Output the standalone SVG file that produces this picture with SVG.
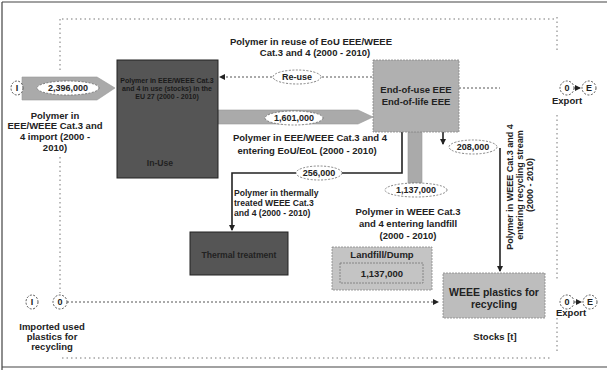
<svg xmlns="http://www.w3.org/2000/svg" width="607" height="375" viewBox="0 0 607 375">
<defs>
<marker id="ah" markerWidth="6" markerHeight="6" refX="5" refY="3" orient="auto" markerUnits="userSpaceOnUse"><path d="M0,0 L6,3 L0,6 z" fill="#222"/></marker>
<style>
text{font-family:"Liberation Sans",Arial,sans-serif;fill:#222}
.b{font-weight:bold;font-size:9.5px}
.s{font-weight:bold;font-size:8.6px}
.n{font-weight:bold;font-size:9px}
.dot{fill:none;stroke:#777;stroke-width:1;stroke-dasharray:1.5 3}
.ln{fill:none;stroke:#222;stroke-width:1.6}
.dl{fill:none;stroke:#555;stroke-width:1;stroke-dasharray:2 2}
.lab{fill:#fff;stroke:#666;stroke-width:0.8;stroke-dasharray:2 1.5}
.cir{fill:#fff;stroke:#555;stroke-width:1;stroke-dasharray:2 1.5}
.flow{fill:#aaa;stroke:#999;stroke-width:0.6}
.c{text-anchor:middle}
</style>
</defs>
<rect width="607" height="375" fill="#fff"/>
<g id="frame">
<path d="M2,2 H607 M2,2 V370 M2,367 H607" fill="none" stroke="#444" stroke-width="1.2"/>
<path class="dot" d="M62,19 H555 M60,19 V70 M60,157 V293 M62,358 H552 M557,17 V53 M557,115 V280 M557,318 V352"/>
</g>
<g id="connectors">
<path class="flow" d="M22,77 H97 L115,88 L97,100 H22 z"/>
<path class="flow" d="M218,110 H358 L373,117 L358,124 H218 z"/>
<rect class="flow" x="408" y="132" width="14" height="52"/>
<path class="dl" d="M372,77 H220" marker-end="url(#ah)"/>
<path class="dl" d="M459,88 H500"/>
<path class="ln" d="M402,132 V173 H342"/>
<path class="ln" d="M296,173 H232 V230" marker-end="url(#ah)"/>
<path class="ln" d="M443,132 V144" marker-end="url(#ah)"/>
<path class="ln" d="M500,148 V271" marker-end="url(#ah)"/>
<path class="dl" d="M67,302 H438" marker-end="url(#ah)"/>
<path class="dl" d="M574,88 H580" marker-end="url(#ah)"/>
<path class="dl" d="M574,302 H581" marker-end="url(#ah)"/>
<ellipse class="lab" cx="68" cy="88" rx="31" ry="7"/>
<text class="n c" x="68" y="91">2,396,000</text>
<ellipse class="lab" cx="297" cy="77" rx="24" ry="7"/>
<text class="n c" x="297" y="80">Re-use</text>
<ellipse class="lab" cx="294" cy="118" rx="29" ry="7"/>
<text class="n c" x="294" y="121">1,601,000</text>
<ellipse class="lab" cx="319" cy="173" rx="23" ry="7"/>
<text class="n c" x="319" y="176">256,000</text>
<ellipse class="lab" cx="416" cy="190" rx="31" ry="7"/>
<text class="n c" x="416" y="193">1,137,000</text>
<ellipse class="lab" cx="473" cy="147" rx="24" ry="7"/>
<text class="n c" x="473" y="150">208,000</text>
</g>
<g id="import-top">
<ellipse class="cir" cx="17" cy="88" rx="6" ry="7"/>
<text class="n c" x="17" y="91">I</text>
<text class="b c" x="55" y="119">Polymer in</text>
<text class="b c" x="55" y="129">EEE/WEEE Cat.3 and</text>
<text class="b c" x="55" y="140">4 import (2000 -</text>
<text class="b c" x="55" y="151">2010)</text>
</g>
<g id="in-use">
<rect x="117" y="60" width="101" height="118" fill="#555" stroke="#222" stroke-width="1"/>
<text class="c" x="167" y="83" style="font-size:7px;font-weight:bold;fill:#1a1a1a">Polymer in EEE/WEEE Cat.3</text>
<text class="c" x="167" y="91" style="font-size:7px;font-weight:bold;fill:#1a1a1a">and 4 in use (stocks) in the</text>
<text class="c" x="167" y="99" style="font-size:7px;font-weight:bold;fill:#1a1a1a">EU 27 (2000 - 2010)</text>
<text class="s c" x="160" y="166">In-Use</text>
</g>
<g id="reuse-label">
<text class="b c" x="311" y="45">Polymer in reuse of EoU EEE/WEEE</text>
<text class="b c" x="315" y="56">Cat.3 and 4 (2000 - 2010)</text>
</g>
<g id="end-of-use">
<rect x="373" y="60" width="86" height="72" fill="#b0b0b0" stroke="#888" stroke-width="0.8" stroke-dasharray="2 1"/>
<text class="b c" x="416" y="93">End-of-use EEE</text>
<text class="b c" x="416" y="105">End-of-life EEE</text>
</g>
<g id="eou-label">
<text class="b c" x="310" y="141">Polymer in EEE/WEEE Cat.3 and 4</text>
<text class="b c" x="307" y="154">entering EoU/EoL (2000 - 2010)</text>
</g>
<g id="thermal-label">
<text class="s" x="234" y="196">Polymer in thermally</text>
<text class="s" x="234" y="206">treated WEEE Cat.3</text>
<text class="s" x="234" y="216">and 4 (2000 - 2010)</text>
</g>
<g id="thermal">
<rect x="190" y="232" width="98" height="43" fill="#555" stroke="#222" stroke-width="1"/>
<text class="s c" x="239" y="258">Thermal treatment</text>
</g>
<g id="landfill-label">
<text class="b c" x="408" y="215">Polymer in WEEE Cat.3</text>
<text class="b c" x="408" y="227">and 4 entering landfill</text>
<text class="b c" x="408" y="239">(2000 - 2010)</text>
</g>
<g id="landfill">
<rect x="332" y="247" width="100" height="43" fill="#c4c4c4" stroke="#888" stroke-width="0.8" stroke-dasharray="2 1"/>
<text class="b c" x="382" y="258">Landfill/Dump</text>
<rect x="340" y="263" width="83" height="20" fill="#c4c4c4" stroke="#777" stroke-width="0.8" stroke-dasharray="2 1"/>
<text class="b c" x="382" y="277">1,137,000</text>
</g>
<g id="recycling-label">
<text class="n c" transform="translate(513,187) rotate(-90)">Polymer in WEEE Cat.3 and 4</text>
<text class="n c" transform="translate(523,185) rotate(-90)">entering recycling stream</text>
<text class="n c" transform="translate(533,185) rotate(-90)">(2000 - 2010)</text>
</g>
<g id="weee-plastics">
<rect x="443" y="273" width="102" height="45" fill="#bdbdbd" stroke="#888" stroke-width="0.8" stroke-dasharray="2 1"/>
<text class="c" x="494" y="296" style="font-size:10.5px;font-weight:bold">WEEE plastics for</text>
<text class="c" x="494" y="308" style="font-size:10.5px;font-weight:bold">recycling</text>
</g>
<g id="export-top">
<ellipse class="cir" cx="567" cy="88" rx="7" ry="7"/>
<text class="n c" x="567" y="91">0</text>
<ellipse class="cir" cx="589" cy="88" rx="7" ry="7"/>
<text class="n c" x="589" y="91">E</text>
<text class="b c" x="567" y="104">Export</text>
</g>
<g id="export-bottom">
<ellipse class="cir" cx="567" cy="302" rx="7" ry="7"/>
<text class="n c" x="567" y="305">0</text>
<ellipse class="cir" cx="590" cy="302" rx="7" ry="7"/>
<text class="n c" x="590" y="305">E</text>
<text class="b c" x="571" y="316">Export</text>
</g>
<g id="import-bottom">
<ellipse class="cir" cx="32" cy="302" rx="6" ry="7"/>
<text class="n c" x="32" y="305">I</text>
<ellipse class="cir" cx="60" cy="302" rx="7" ry="7"/>
<text class="n c" x="60" y="305">0</text>
<text class="b c" x="52" y="330">Imported used</text>
<text class="b c" x="52" y="340">plastics for</text>
<text class="b c" x="52" y="350">recycling</text>
</g>
<g id="stocks">
<text class="b c" x="495" y="340">Stocks [t]</text>
</g>
</svg>
